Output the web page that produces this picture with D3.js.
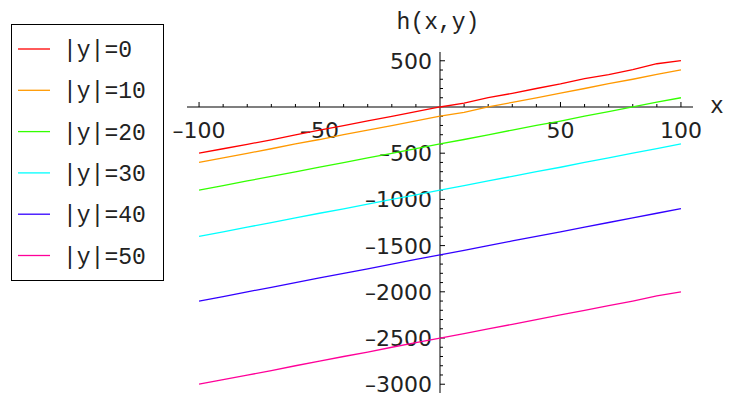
<!DOCTYPE html>
<html>
<head>
<meta charset="utf-8">
<script src="https://cdn.jsdelivr.net/npm/d3@7"></script>
<style>
  body { margin: 0; background: #fff; }
  svg { display: block; }
</style>
</head>
<body>
<svg id="chart"></svg>
<script>
// x values sampled every 10
const xs = [-100, -90, -80, -70, -60, -50, -40, -30, -20, -10, 0, 10, 20, 30, 40, 50, 60, 70, 80, 90, 100]

const seriesNames = ['|y|=0', '|y|=10', '|y|=20', '|y|=30', '|y|=40', '|y|=50']
const seriesColors = ['#ff0000', '#ff9900', '#33ff00', '#00ffff', '#3300ff', '#ff0099']

// h(x,y)
const hY0 = [-500, -452, -404, -355, -303, -251, -201, -150, -101, -49, 0, 42, 101, 148, 200, 249, 306, 350, 405, 468, 502]
const hY10 = [-600, -551, -502, -452, -400, -352, -298, -250, -202, -150, -100, -58, 0, 50, 98, 150, 200, 252, 300, 352, 402]
const hY20 = [-900, -852, -800, -752, -703, -650, -601, -550, -502, -451, -400, -352, -301, -250, -200, -152, -100, -50, 0, 52, 100]
const hY30 = [-1400, -1352, -1300, -1252, -1200, -1150, -1102, -1050, -1000, -951, -900, -852, -800, -750, -700, -652, -600, -550, -500, -450, -400]
const hY40 = [-2100, -2052, -2000, -1952, -1900, -1850, -1800, -1752, -1700, -1650, -1600, -1552, -1500, -1450, -1400, -1352, -1300, -1250, -1200, -1150, -1100]
const hY50 = [-3000, -2950, -2902, -2852, -2800, -2750, -2700, -2652, -2600, -2550, -2500, -2452, -2400, -2352, -2300, -2250, -2200, -2150, -2100, -2045, -2000]

const allSeries = [hY0, hY10, hY20, hY30, hY40, hY50]

const xMajor = [-100, -50, 50, 100]
const yMajor = [500, -500, -1000, -1500, -2000, -2500, -3000]

const width = 738
const height = 400
const monoFont = '"Liberation Mono", "DejaVu Sans Mono", monospace'
const sansFont = '"DejaVu Sans", sans-serif'

const svg = d3.select('#chart')
  .attr('width', width)
  .attr('height', height)

const x = d3.scaleLinear().domain([-105, 105]).range([187, 693])
const y = d3.scaleLinear().domain([595, -3095]).range([52, 393])

const x0 = x(0)
const y0 = y(0)

const fmt = v => (v < 0 ? '\u2013' : '') + Math.abs(v)

// axes lines
svg.append('line')
  .attr('x1', x.range()[0]).attr('x2', x.range()[1])
  .attr('y1', y0).attr('y2', y0)
  .attr('stroke', '#000').attr('stroke-width', 1.2)

svg.append('line')
  .attr('x1', x0).attr('x2', x0)
  .attr('y1', y.range()[0]).attr('y2', y.range()[1])
  .attr('stroke', '#555').attr('stroke-width', 1.5)

// x ticks: minor every 10, major at multiples of 50 (ticks point up)
const xTicks = d3.range(-100, 101, 10).filter(v => v !== 0)
svg.append('g')
  .selectAll('line')
  .data(xTicks)
  .enter().append('line')
  .attr('x1', d => x(d)).attr('x2', d => x(d))
  .attr('y1', y0)
  .attr('y2', d => y0 - (d % 50 === 0 ? 5 : 3))
  .attr('stroke', '#000').attr('stroke-width', 1)

svg.append('g')
  .selectAll('text')
  .data(xMajor)
  .enter().append('text')
  .attr('x', d => x(d))
  .attr('y', y0 + 31)
  .attr('text-anchor', 'middle')
  .attr('font-family', sansFont)
  .attr('font-size', '22px')
  .attr('fill', '#222')
  .text(fmt)

// y ticks: minor every 100, major every 500 (ticks point right)
const yTicks = d3.range(-3000, 501, 100).filter(v => v !== 0)
svg.append('g')
  .selectAll('line')
  .data(yTicks)
  .enter().append('line')
  .attr('x1', x0).attr('x2', d => x0 + (d % 500 === 0 ? 5 : 3))
  .attr('y1', d => y(d)).attr('y2', d => y(d))
  .attr('stroke', '#000').attr('stroke-width', 1)

svg.append('g')
  .selectAll('text')
  .data(yMajor)
  .enter().append('text')
  .attr('x', x0 - 8)
  .attr('y', d => y(d) + 8)
  .attr('text-anchor', 'end')
  .attr('font-family', sansFont)
  .attr('font-size', '22px')
  .attr('fill', '#222')
  .text(fmt)

// axis labels
svg.append('text')
  .attr('x', x0 - 2).attr('y', 29)
  .attr('text-anchor', 'middle')
  .attr('font-family', monoFont)
  .attr('font-size', '23px')
  .attr('fill', '#222')
  .text('h(x,y)')

svg.append('text')
  .attr('x', 710).attr('y', 113)
  .attr('font-family', monoFont)
  .attr('font-size', '23px')
  .attr('fill', '#222')
  .text('x')

// series lines
const line = d3.line()
  .x((d, i) => x(xs[i]))
  .y(d => y(d))

svg.append('g')
  .selectAll('path')
  .data(allSeries)
  .enter().append('path')
  .attr('d', line)
  .attr('fill', 'none')
  .attr('stroke', (d, i) => seriesColors[i])
  .attr('stroke-width', 1.3)

// legend
const legend = svg.append('g')
legend.append('rect')
  .attr('x', 11.5).attr('y', 24.5)
  .attr('width', 152).attr('height', 256)
  .attr('fill', '#fff')
  .attr('stroke', '#000').attr('stroke-width', 1)

const item = legend.selectAll('g.item')
  .data(seriesNames)
  .enter().append('g')
  .attr('class', 'item')
  .attr('transform', (d, i) => `translate(0,${49 + i * 41.3})`)

item.append('line')
  .attr('x1', 18).attr('x2', 50)
  .attr('y1', 0).attr('y2', 0)
  .attr('stroke', (d, i) => seriesColors[i])
  .attr('stroke-width', 1.3)

item.append('text')
  .attr('x', 63).attr('y', 8)
  .attr('font-family', monoFont)
  .attr('font-size', '23px')
  .attr('fill', '#222')
  .text(d => d)
</script>
</body>
</html>
